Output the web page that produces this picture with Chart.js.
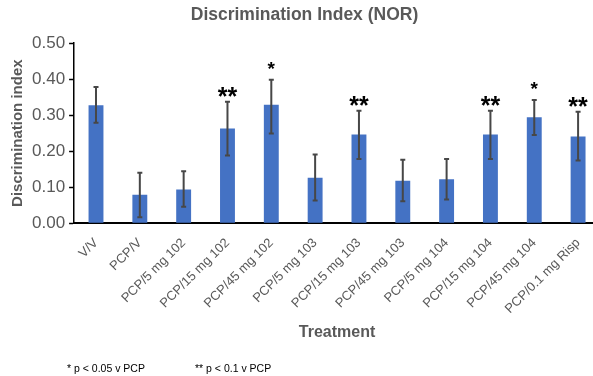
<!DOCTYPE html>
<html>
<head>
<meta charset="utf-8">
<script src="https://cdn.jsdelivr.net/npm/chart.js@4.4.1/dist/chart.umd.min.js"></script>
<style>
  html, body { margin: 0; padding: 0; background: #fff; overflow: hidden; }
  #wrap { position: relative; width: 593px; height: 376px; overflow: hidden; }
  canvas { position: absolute; left: 0; top: 0; }
  .note { position: absolute; top: 362px; font: 10.5px "Liberation Sans", Arial, sans-serif; color: #000; white-space: nowrap; }
</style>
</head>
<body>
<div id="wrap">
  <canvas id="chart" width="600" height="376"></canvas>
  <div class="note" style="left:67px">* p &lt; 0.05 v PCP</div>
  <div class="note" style="left:195px">** p &lt; 0.1 v PCP</div>
</div>
<script>
var treatments = ["V/V", "PCP/V", "PCP/5 mg 102", "PCP/15 mg 102", "PCP/45 mg 102", "PCP/5 mg 103",
                  "PCP/15 mg 103", "PCP/45 mg 103", "PCP/5 mg 104", "PCP/15 mg 104", "PCP/45 mg 104", "PCP/0.1 mg Risp"];
var meanIndex = [0.327, 0.079, 0.094, 0.263, 0.329, 0.126, 0.246, 0.118, 0.122, 0.246, 0.294, 0.241];
var errUpper  = [0.378, 0.140, 0.144, 0.337, 0.398, 0.191, 0.312, 0.176, 0.178, 0.312, 0.342, 0.309];
var errLower  = [0.279, 0.017, 0.046, 0.188, 0.249, 0.063, 0.178, 0.061, 0.066, 0.178, 0.245, 0.174];
var significance = ["", "", "", "**", "*", "", "**", "", "", "**", "*", "**"];
var yTicks = [0, 0.1, 0.2, 0.3, 0.4, 0.5];

var gray = "#595959";
var fontFam = "'Liberation Sans', Arial, sans-serif";

// error bars + significance stars
var extras = {
  id: "extras",
  afterDatasetsDraw: function(chart) {
    var ctx = chart.ctx;
    var x = chart.scales.x, y = chart.scales.y;
    ctx.save();
    ctx.strokeStyle = "#474747";
    ctx.lineWidth = 2;
    for (var i = 0; i < meanIndex.length; i++) {
      var px = x.getPixelForValue(i);
      var top = y.getPixelForValue(errUpper[i]);
      var bot = y.getPixelForValue(errLower[i]);
      ctx.beginPath();
      ctx.moveTo(px, top); ctx.lineTo(px, bot);
      ctx.moveTo(px - 2.5, top); ctx.lineTo(px + 2.5, top);
      ctx.moveTo(px - 2.5, bot); ctx.lineTo(px + 2.5, bot);
      ctx.stroke();

      var s = significance[i];
      if (s) {
        ctx.fillStyle = "#000";
        ctx.textAlign = "center";
        ctx.textBaseline = "alphabetic";
        if (s === "**") {
          ctx.font = "bold 25px " + fontFam;
          ctx.fillText(s, px, top + 3);
        } else {
          ctx.font = "bold 19px " + fontFam;
          ctx.fillText(s, px, top - 5);
        }
      }
    }
    ctx.restore();
  }
};

new Chart(document.getElementById("chart").getContext("2d"), {
  type: "bar",
  data: {
    labels: treatments,
    datasets: [{
      data: meanIndex,
      backgroundColor: "#4472C4",
      borderWidth: 0,
      categoryPercentage: 1,
      barPercentage: 0.34
    }]
  },
  options: {
    responsive: false,
    animation: false,
    devicePixelRatio: 1,
    layout: { padding: { top: 5, left: 9, right: 0, bottom: 34 } },
    plugins: {
      legend: { display: false },
      tooltip: { enabled: false },
      title: {
        display: true,
        text: "Discrimination Index (NOR)",
        color: gray,
        font: { family: fontFam, size: 17.5, weight: "bold" },
        padding: { top: 0, bottom: 17 }
      }
    },
    scales: {
      x: {
        grid: { display: false },
        border: { display: true, color: "#000", width: 2 },
        ticks: {
          color: gray,
          font: { family: fontFam, size: 13 },
          minRotation: 45,
          maxRotation: 45,
          padding: 4,
          autoSkip: false
        },
        title: {
          display: true,
          text: "Treatment",
          color: gray,
          font: { family: fontFam, size: 16, weight: "bold" },
          padding: { top: 2, bottom: 0 }
        }
      },
      y: {
        min: 0,
        max: 0.5,
        afterBuildTicks: function(axis) {
          axis.ticks = yTicks.map(function(v) { return { value: v }; });
        },
        grid: { display: true, drawOnChartArea: false, drawTicks: true, tickLength: 5, tickColor: "#000", tickWidth: 1.5 },
        border: { display: true, color: "#000", width: 1.5 },
        ticks: {
          color: gray,
          font: { family: fontFam, size: 17 },
          padding: 4,
          callback: function(v) { return Number(v).toFixed(2); }
        },
        title: {
          display: true,
          text: "Discrimination index",
          color: gray,
          font: { family: fontFam, size: 15, weight: "bold" },
          padding: { top: 0, bottom: 1 }
        }
      }
    }
  },
  plugins: [extras]
});
</script>
</body>
</html>
